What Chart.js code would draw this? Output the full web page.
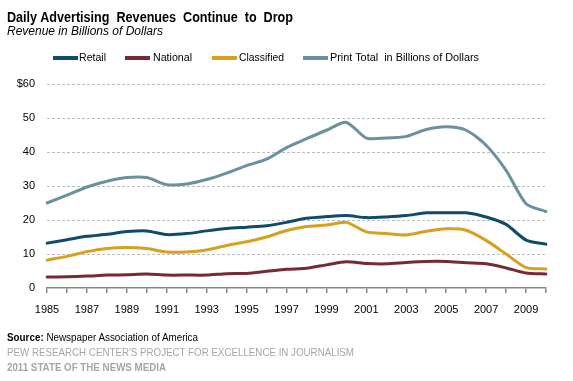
<!DOCTYPE html>
<html><head><meta charset="utf-8">
<script src="https://cdn.jsdelivr.net/npm/chart.js@4.4.0/dist/chart.umd.min.js"></script>
<style>
html,body{margin:0;padding:0;background:#fff;}
#wrap{position:relative;width:573px;height:381px;overflow:hidden;font-family:"Liberation Sans",Arial,sans-serif;}
canvas{position:absolute;left:0;top:0;}
.t{position:absolute;white-space:pre;transform-origin:0 0;line-height:1;}
.sw{position:absolute;height:4px;width:25px;}
</style></head><body>
<div id="wrap">
<canvas id="c" width="573" height="381"></canvas>
<div class="t fit" data-w="286" style="left:7px;top:10px;font-weight:bold;font-size:14px;color:#000">Daily Advertising  Revenues  Continue  to  Drop</div>
<div class="t fit" data-w="156" style="left:7px;top:24.8px;font-style:italic;font-size:12px;color:#000">Revenue in Billions of Dollars</div>

<div class="sw" style="left:53px;top:56px;background:#0f4b6c"></div>
<div class="t fit" data-w="27" style="left:79px;top:52.3px;font-size:11.5px;color:#000">Retail</div>
<div class="sw" style="left:125px;top:56px;background:#772a33"></div>
<div class="t fit" data-w="39" style="left:153px;top:52.3px;font-size:11.5px;color:#000">National</div>
<div class="sw" style="left:212px;top:56px;background:#d6a020"></div>
<div class="t fit" data-w="45" style="left:239px;top:52.3px;font-size:11.5px;color:#000">Classified</div>
<div class="sw" style="left:303px;top:56px;background:#6b909e"></div>
<div class="t fit" data-w="149" style="left:330px;top:52.3px;font-size:11.5px;color:#000">Print Total  in Billions of Dollars</div>

<div class="t fit" data-w="191" style="left:7px;top:331.7px;font-size:11px;color:#000"><b>Source:</b> Newspaper Association of America</div>
<div class="t fit" data-w="347" style="left:7px;top:346.7px;font-size:11px;color:#a6a6a6">PEW RESEARCH CENTER'S PROJECT FOR EXCELLENCE IN JOURNALISM</div>
<div class="t fit" data-w="159" style="left:7px;top:361.7px;font-size:11px;font-weight:bold;color:#a6a6a6">2011 STATE OF THE NEWS MEDIA</div>
</div>
<script>
const years = [1985,1986,1987,1988,1989,1990,1991,1992,1993,1994,1995,1996,1997,1998,1999,2000,2001,2002,2003,2004,2005,2006,2007,2008,2009,2010];
const retail = [13.2,14.2,15.2,15.8,16.6,16.8,15.7,16.0,16.8,17.5,17.9,18.3,19.3,20.5,21.0,21.3,20.7,20.9,21.3,22.1,22.1,22.1,20.9,18.7,14.1,12.9];
const national = [3.2,3.3,3.5,3.8,3.9,4.1,3.8,3.8,3.8,4.2,4.3,4.9,5.5,5.8,6.8,7.7,7.2,7.1,7.5,7.8,7.8,7.4,7.1,5.9,4.4,4.1];
const classified = [8.2,9.3,10.7,11.6,11.9,11.6,10.6,10.6,11.2,12.5,13.6,15.0,16.9,18.1,18.5,19.3,16.5,16.0,15.6,16.7,17.4,17.0,14.0,10.0,6.0,5.6];
const printTotal = [25.0,27.3,29.7,31.4,32.5,32.5,30.4,30.6,31.9,33.8,36.0,37.9,41.3,43.9,46.4,48.7,44.1,44.1,44.6,46.6,47.4,46.4,42.0,34.6,24.8,22.5];
const yTicks = [0,10,20,30,40,50,60];

document.querySelectorAll('.fit').forEach(el=>{
  const w = parseFloat(el.dataset.w);
  const cur = el.getBoundingClientRect().width;
  if (cur>0) el.style.transform = 'scaleX(' + (w/cur) + ')';
});

const tickFont = {family:'Liberation Sans', size:11};
new Chart(document.getElementById('c'), {
  type:'line',
  data:{
    labels: years.map(String),
    datasets:[
      {label:'Retail', data:retail, borderColor:'#0f4b6c'},
      {label:'National', data:national, borderColor:'#772a33'},
      {label:'Classified', data:classified, borderColor:'#d6a020'},
      {label:'Print Total  in Billions of Dollars', data:printTotal, borderColor:'#6b909e'}
    ]
  },
  options:{
    responsive:false, animation:false, devicePixelRatio:1,
    layout:{padding:{left:0,right:27,top:84,bottom:63}},
    plugins:{legend:{display:false}, tooltip:{enabled:false}},
    elements:{point:{radius:0}, line:{borderWidth:3, tension:0.25, borderCapStyle:'round'}},
    scales:{
      x:{
        offset:false,
        ticks:{autoSkip:false, maxRotation:0, color:'#000', font:tickFont, padding:10,
          callback:(v,i)=> i%2===0 ? String(years[i]) : ''},
        grid:{drawOnChartArea:false, drawTicks:true, tickLength:5, color:'#888', lineWidth:1.5},
        border:{color:'#888', width:1.5},
        afterFit:s=>{s.height=30;}
      },
      y:{
        min:0, max:60,
        afterBuildTicks:s=>{s.ticks = yTicks.map(v=>({value:v}));},
        ticks:{color:'#000', font:tickFont, padding:12,
          callback:v=> v===60 ? '$60' : String(v)},
        grid:{drawTicks:false, color:c=> c.tick && c.tick.value===0 ? 'rgba(0,0,0,0)' : '#bdbdbd', lineWidth:1},
        border:{display:false, dash:[3,2]},
        afterFit:s=>{s.width=47;}
      }
    }
  }
});
</script>
</body></html>
